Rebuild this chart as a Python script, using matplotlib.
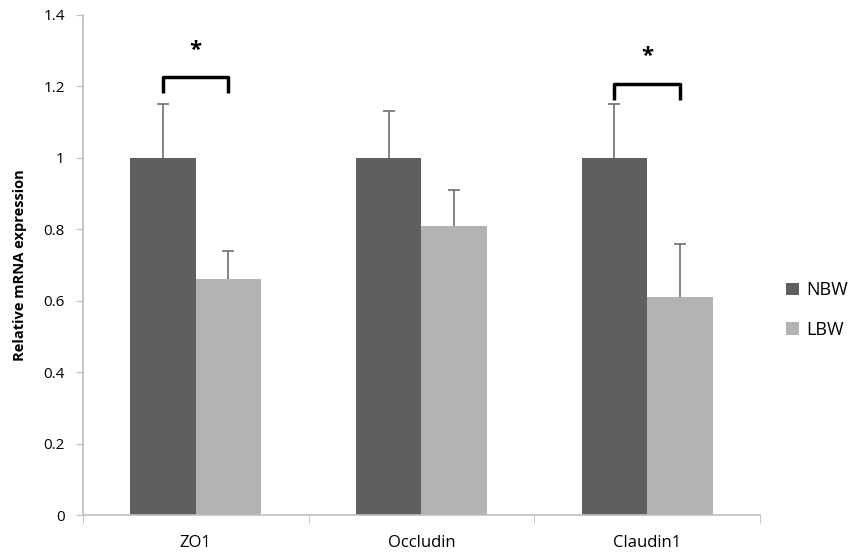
import numpy as np
import matplotlib.pyplot as plt

categories = ["ZO1", "Occludin", "Claudin1"]
nbw = [1.0, 1.0, 1.0]
nbw_err = [0.15, 0.13, 0.15]
lbw = [0.66, 0.81, 0.61]
lbw_err = [0.08, 0.10, 0.15]
yticks = [0, 0.2, 0.4, 0.6, 0.8, 1, 1.2, 1.4]
ytick_labels = ["0", "0.2", "0.4", "0.6", "0.8", "1", "1.2", "1.4"]

# significance brackets: (category index, top, leg bottom, star y)
sig = [(0, 1.227, 1.182, 1.30), (2, 1.207, 1.162, 1.283)]

plt.rcParams['font.family'] = ['Open Sans', 'DejaVu Sans']

fig = plt.figure(figsize=(8.54, 5.54), dpi=100)
ax = fig.add_axes([0.097, 0.07, 0.793, 0.903])

x = np.arange(len(categories))
w = 0.29
c_nbw = "#5f5f5f"
c_lbw = "#b3b3b3"
ecol = "#6e6e6e"

ax.bar(x - w / 2, nbw, w, color=c_nbw, label="NBW", zorder=2)
ax.bar(x + w / 2, lbw, w, color=c_lbw, label="LBW", zorder=2)

# upper-only error bars
for xs, vals, errs in [(x - w / 2, nbw, nbw_err), (x + w / 2, lbw, lbw_err)]:
    tops = np.array(vals) + np.array(errs)
    ax.vlines(xs, vals, tops, color=ecol, lw=1.2, zorder=1)
    ax.plot(xs, tops, ls="none", marker="_", ms=9, mew=1.2, color=ecol, zorder=1)

for i, top, bot, sy in sig:
    ax.plot([i - w / 2, i - w / 2, i + w / 2, i + w / 2], [bot, top, top, bot],
            color="black", lw=2.5, solid_joinstyle="round", solid_capstyle="butt")
    ax.text(i, sy, "*", ha="center", va="center", fontsize=16, fontweight="bold")

ax.set_xlim(-0.5, 2.5)
ax.set_ylim(0, 1.4)
ax.set_yticks(yticks)
ax.set_yticklabels(ytick_labels, fontsize=11)
ax.set_xticks(x)
ax.set_xticklabels(categories, fontsize=12)
ax.set_xticks([-0.5, 0.5, 1.5, 2.5], minor=True)
ax.tick_params(axis="x", which="major", length=0, pad=14)
ax.tick_params(axis="x", which="minor", length=6, color="#bfbfbf", direction="out")
ax.tick_params(axis="y", length=5, color="#bfbfbf", direction="out", pad=8)

for s in ["top", "right"]:
    ax.spines[s].set_visible(False)
for s in ["left", "bottom"]:
    ax.spines[s].set_color("#bfbfbf")
    ax.spines[s].set_linewidth(1.2)

ax.set_ylabel("Relative mRNA expression", fontsize=10.5, fontweight="bold", labelpad=12)

ax.legend(loc="center left", bbox_to_anchor=(1.02, 0.41), frameon=False, fontsize=13,
          handlelength=0.7, handleheight=0.7, handletextpad=0.4, labelspacing=1.2,
          borderaxespad=0.3)

fig.savefig("out.png", dpi=100)
